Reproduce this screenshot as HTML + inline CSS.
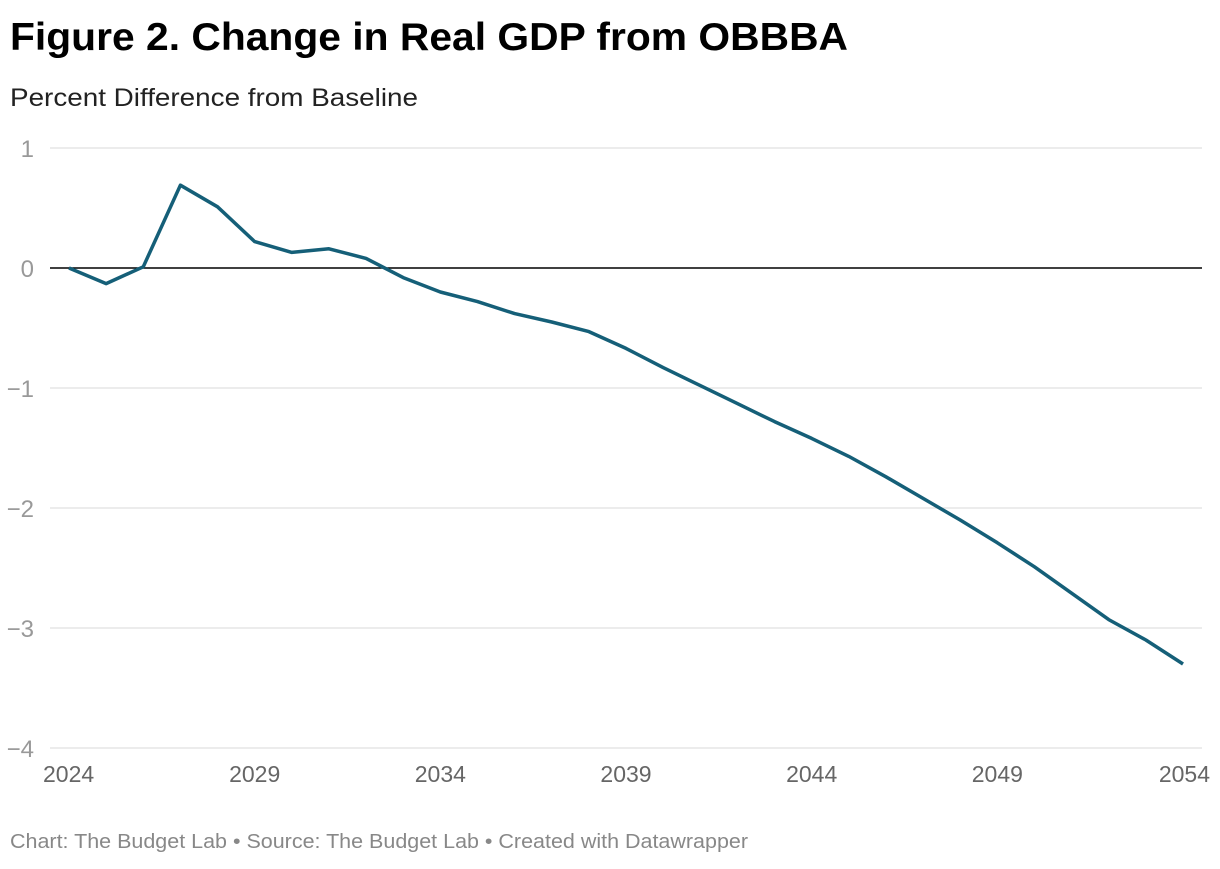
<!DOCTYPE html>
<html><head><meta charset="utf-8"><style>
body{margin:0;background:#fff;width:1220px;height:864px;overflow:hidden;font-family:"Liberation Sans",sans-serif}
</style></head><body>
<svg width="1220" height="864">
<text x="10" y="50" font-size="39" font-weight="bold" fill="#000" textLength="838" lengthAdjust="spacingAndGlyphs">Figure 2. Change in Real GDP from OBBBA</text>
<text x="10" y="106" font-size="25" fill="#222" textLength="408" lengthAdjust="spacingAndGlyphs">Percent Difference from Baseline</text>
<g id="grid"></g><g id="xt"></g>
<path id="line" fill="none" stroke="#155f78" stroke-width="3.5" stroke-linejoin="round"/>
<text x="10" y="848" font-size="20" fill="#888" textLength="738" lengthAdjust="spacingAndGlyphs">Chart: The Budget Lab • Source: The Budget Lab • Created with Datawrapper</text>
</svg>
<script>
const years=[2024,2025,2026,2027,2028,2029,2030,2031,2032,2033,2034,2035,2036,2037,2038,2039,2040,2041,2042,2043,2044,2045,2046,2047,2048,2049,2050,2051,2052,2053,2054];
const gdpChange=[0,-0.13,0.01,0.69,0.51,0.22,0.13,0.16,0.08,-0.08,-0.2,-0.28,-0.38,-0.45,-0.53,-0.67,-0.83,-0.98,-1.13,-1.28,-1.42,-1.57,-1.74,-1.92,-2.1,-2.29,-2.49,-2.71,-2.93,-3.1,-3.3];
const yTicks=[1,0,-1,-2,-3,-4];
const xTicks=[2024,2029,2034,2039,2044,2049,2054];
const x=v=>69+(v-2024)*(1183-69)/30;
const y=v=>268-v*120;
const NS="http://www.w3.org/2000/svg";
const grid=document.getElementById('grid'),xt=document.getElementById('xt');
yTicks.forEach(t=>{
 const l=document.createElementNS(NS,'line');
 
 
 l.setAttribute('x1',50);l.setAttribute('x2',1202);l.setAttribute('y1',y(t));l.setAttribute('y2',y(t));
 l.setAttribute('stroke',t===0?'#000':'#e0e0e0');l.setAttribute('stroke-width',t===0?1.6:1.3);
 grid.appendChild(l);
 const s=document.createElementNS(NS,'text');
 
 
 s.setAttribute('x',34);s.setAttribute('y',y(t)+9);s.setAttribute('text-anchor','end');
 s.setAttribute('font-size',24);s.setAttribute('fill','#999');
 s.textContent=t<0?'\u2212'+(-t):String(t);grid.appendChild(s);
});
xTicks.forEach((t,i)=>{
 const s=document.createElementNS(NS,'text');
 
 
 let px=x(t),a='middle';
 if(i===0){px=43;a='start';} if(i===xTicks.length-1){px=1210;a='end';}
 s.setAttribute('x',px);s.setAttribute('y',782);s.setAttribute('text-anchor',a);
 s.setAttribute('font-size',23);s.setAttribute('fill','#666');s.textContent=t;xt.appendChild(s);
});
document.getElementById('line').setAttribute('d',years.map((yr,i)=>(i?'L':'M')+x(yr)+','+y(gdpChange[i])).join(''));
</script>
</body></html>
